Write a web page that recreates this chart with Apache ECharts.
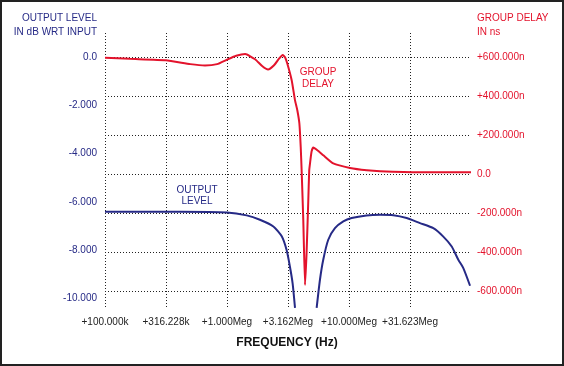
<!DOCTYPE html>
<html>
<head>
<meta charset="utf-8">
<script src="https://cdn.jsdelivr.net/npm/echarts@6/dist/echarts.min.js"></script>
<style>
html,body{margin:0;padding:0;background:#fff;}
#c{width:564px;height:366px;}
</style>
</head>
<body>
<div id="c"></div>
<script>
// Frequencies in Hz
const gdFreq = [1.0e5,1.6e5,3.16e5,5.0e5,6.6e5,8.3e5,1.0e6,1.19e6,1.41e6,1.7e6,1.94e6,2.17e6,2.43e6,2.67e6,2.86e6,2.99e6,3.12e6,3.39e6,3.61e6,3.77e6,3.92e6,4.02e6,4.09e6,4.22e6,4.36e6,4.49e6,4.63e6,4.72e6,4.79e6,4.93e6,5.10e6,5.57e6,6.16e6,7.43e6,1.02e7,1.40e7,1.80e7,3.82e7,1.0e8];
const gdNs   = [598,592,585,565,558,565,588,608,617,590,555,537,559,593,612,600,568,482,379,328,260,140,20,-236,-569,-405,-149,20,55,115,137,120,97,55,32,20,15,10,10];

const olFreq = [1.0e5,4.12e5,1.0e6,1.45e6,1.86e6,2.40e6,2.81e6,3.08e6,3.28e6,3.45e6,3.61e6,4.4e6,5.43e6,5.78e6,6.15e6,6.76e6,7.67e6,8.98e6,1.05e7,1.39e7,1.80e7,2.31e7,2.97e7,3.82e7,4.91e7,5.93e7,6.95e7,7.87e7,8.65e7,9.82e7];
const olDb   = [-6.41,-6.41,-6.44,-6.56,-6.74,-7.02,-7.43,-8.0,-8.69,-9.38,-10.4,null,-10.4,-9.23,-8.40,-7.57,-7.09,-6.81,-6.67,-6.56,-6.53,-6.55,-6.67,-6.88,-7.09,-7.44,-7.85,-8.40,-8.75,-9.48];

const xTickLabels = ['+100.000k','+316.228k','+1.000Meg','+3.162Meg','+10.000Meg','+31.623Meg',''];
const leftTickLabels = ['0.0','-2.000','-4.000','-6.000','-8.000','-10.000'];
const rightTickLabels = ['+600.000n','+400.000n','+200.000n','0.0','-200.000n','-400.000n','-600.000n'];

const NAVY = '#262a86';
const RED = '#e3132c';
const FONT = "'Liberation Sans', Arial, sans-serif";
const dots = {color:'#222', width:1, type:[1,2]};

const chart = echarts.init(document.getElementById('c'));
const toXY = (f, v) => [Math.log10(f), v == null ? '-' : v];

chart.setOption({
  animation:false,
  backgroundColor:'#fff',
  grid:[
    {left:105, right:93, top:33, height:275},
    {left:105, right:93, top:57.3, height:241},
    {left:105, right:93, top:57.3, height:233.7}
  ],
  xAxis:[
    {gridIndex:0, type:'value', min:5, max:8, interval:0.5,
     axisLine:{show:false}, axisTick:{show:false},
     splitLine:{show:true, showMaxLine:false, lineStyle:dots},
     axisLabel:{color:'#222', fontFamily:FONT, fontSize:10, margin:9,
       formatter:v=>xTickLabels[Math.round((v-5)/0.5)]}},
    {gridIndex:1, type:'value', min:5, max:8, show:false},
    {gridIndex:2, type:'value', min:5, max:8, show:false}
  ],
  yAxis:[
    {gridIndex:0, type:'value', min:0, max:1, show:false},
    {gridIndex:1, type:'value', min:-10, max:0, interval:2, position:'left',
     axisLine:{show:false}, axisTick:{show:false}, splitLine:{show:false},
     axisLabel:{color:NAVY, fontFamily:FONT, fontSize:10, margin:8,
       formatter:v=>leftTickLabels[Math.round(-v/2)]}},
    {gridIndex:2, type:'value', min:-600, max:600, interval:200, position:'right',
     axisLine:{show:false}, axisTick:{show:false},
     splitLine:{show:true, lineStyle:dots},
     axisLabel:{color:RED, fontFamily:FONT, fontSize:10, margin:6,
       formatter:v=>rightTickLabels[Math.round((600-v)/200)]}}
  ],
  series:[
    {type:'line', xAxisIndex:1, yAxisIndex:1, clip:false, showSymbol:false, smooth:0.2,
     connectNulls:false,
     lineStyle:{color:NAVY, width:2}, itemStyle:{color:NAVY},
     data: olFreq.map((f,i)=>toXY(f, olDb[i]))},
    {type:'line', xAxisIndex:2, yAxisIndex:2, clip:false, showSymbol:false, smooth:0.15,
     lineStyle:{color:RED, width:2}, itemStyle:{color:RED},
     data: gdFreq.map((f,i)=>toXY(f, gdNs[i]))}
  ],
  graphic:[
    {type:'rect', shape:{x:1, y:1, width:562, height:364}, style:{fill:'none', stroke:'#222', lineWidth:2}, z:100},
    {type:'text', x:97, y:18, style:{text:'OUTPUT LEVEL', fill:NAVY, font:'10px '+FONT, textAlign:'right', textVerticalAlign:'middle'}},
    {type:'text', x:97, y:32, style:{text:'IN dB WRT INPUT', fill:NAVY, font:'10px '+FONT, textAlign:'right', textVerticalAlign:'middle'}},
    {type:'text', x:477, y:18, style:{text:'GROUP DELAY', fill:RED, font:'10px '+FONT, textAlign:'left', textVerticalAlign:'middle'}},
    {type:'text', x:477, y:32, style:{text:'IN ns', fill:RED, font:'10px '+FONT, textAlign:'left', textVerticalAlign:'middle'}},
    {type:'text', x:318, y:72, style:{text:'GROUP', fill:RED, font:'10px '+FONT, textAlign:'center', textVerticalAlign:'middle'}},
    {type:'text', x:318, y:84, style:{text:'DELAY', fill:RED, font:'10px '+FONT, textAlign:'center', textVerticalAlign:'middle'}},
    {type:'text', x:197, y:190, style:{text:'OUTPUT', fill:NAVY, font:'10px '+FONT, textAlign:'center', textVerticalAlign:'middle'}},
    {type:'text', x:197, y:201, style:{text:'LEVEL', fill:NAVY, font:'10px '+FONT, textAlign:'center', textVerticalAlign:'middle'}},
    {type:'text', x:287, y:343, style:{text:'FREQUENCY (Hz)', fill:'#111', font:'bold 12px '+FONT, textAlign:'center', textVerticalAlign:'middle'}}
  ]
});
</script>
</body>
</html>
